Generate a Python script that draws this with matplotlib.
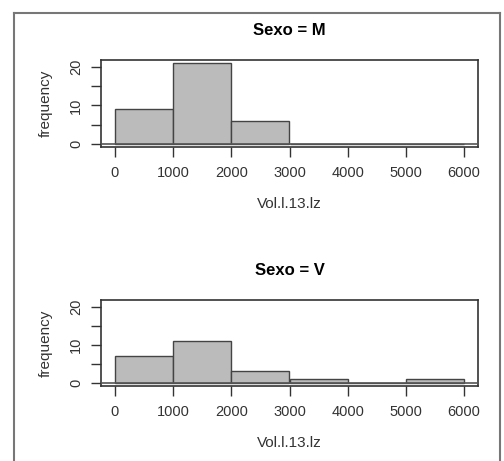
import numpy as np
import matplotlib
matplotlib.use("Agg")
import matplotlib.pyplot as plt

plt.rcParams['font.family'] = ['Liberation Sans', 'DejaVu Sans']

bin_edges = [0, 1000, 2000, 3000, 4000, 5000, 6000]
counts_m = [9, 21, 6, 0, 0, 0]
counts_v = [7, 11, 3, 1, 0, 1]
titles = ['Sexo = M', 'Sexo = V']
xlabel = 'Vol.l.13.lz'
ylabel = 'frequency'
xticks = [0, 1000, 2000, 3000, 4000, 5000, 6000]
yticks = [0, 5, 10, 15, 20]
ylabels = ['0', '', '10', '', '20']

fig = plt.figure(figsize=(5.04, 4.61), dpi=100)

# outer grey frame (bottom cut off as in the screenshot)
W, H = 504, 461
fig.add_artist(plt.Line2D([14 / W, 14 / W], [0, 1 - 13 / H], color='#777777', lw=1.5))
fig.add_artist(plt.Line2D([14 / W, 500 / W], [1 - 13 / H, 1 - 13 / H], color='#777777', lw=1.5))
fig.add_artist(plt.Line2D([500 / W, 500 / W], [0, 1 - 13 / H], color='#777777', lw=1.5))

axes_pos = [[101 / W, 1 - 147 / H, 377 / W, 87 / H],
            [101 / W, 1 - 386 / H, 377 / W, 86 / H]]

edges = np.array(bin_edges)
for pos, counts, title in zip(axes_pos, [counts_m, counts_v], titles):
    ax = fig.add_axes(pos)
    ax.bar(edges[:-1], counts, width=np.diff(edges), align='edge',
           color='#BBBBBB', edgecolor='#444444', linewidth=1)
    ax.axhline(0, color='#555555', lw=1.2, zorder=3)
    ax.set_xlim(-240, 6240)
    ax.set_ylim(-0.84, 21.84)
    ax.set_xticks(xticks)
    ax.set_yticks(yticks)
    ax.set_yticklabels(ylabels, rotation=90, va='center')
    ax.tick_params(axis='both', direction='out', length=7, width=1,
                   color='#333333', labelcolor='#333333', labelsize=10.5)
    ax.tick_params(axis='x', pad=7)
    ax.tick_params(axis='y', pad=6)
    for s in ax.spines.values():
        s.set_color('#333333')
        s.set_linewidth(1.2)
    ax.set_title(title, fontsize=12, fontweight='bold', pad=18)
    ax.set_xlabel(xlabel, fontsize=11, color='#333333', labelpad=12)
    ax.set_ylabel(ylabel, fontsize=11, color='#333333', labelpad=12)

fig.savefig('out.png', dpi=100)
